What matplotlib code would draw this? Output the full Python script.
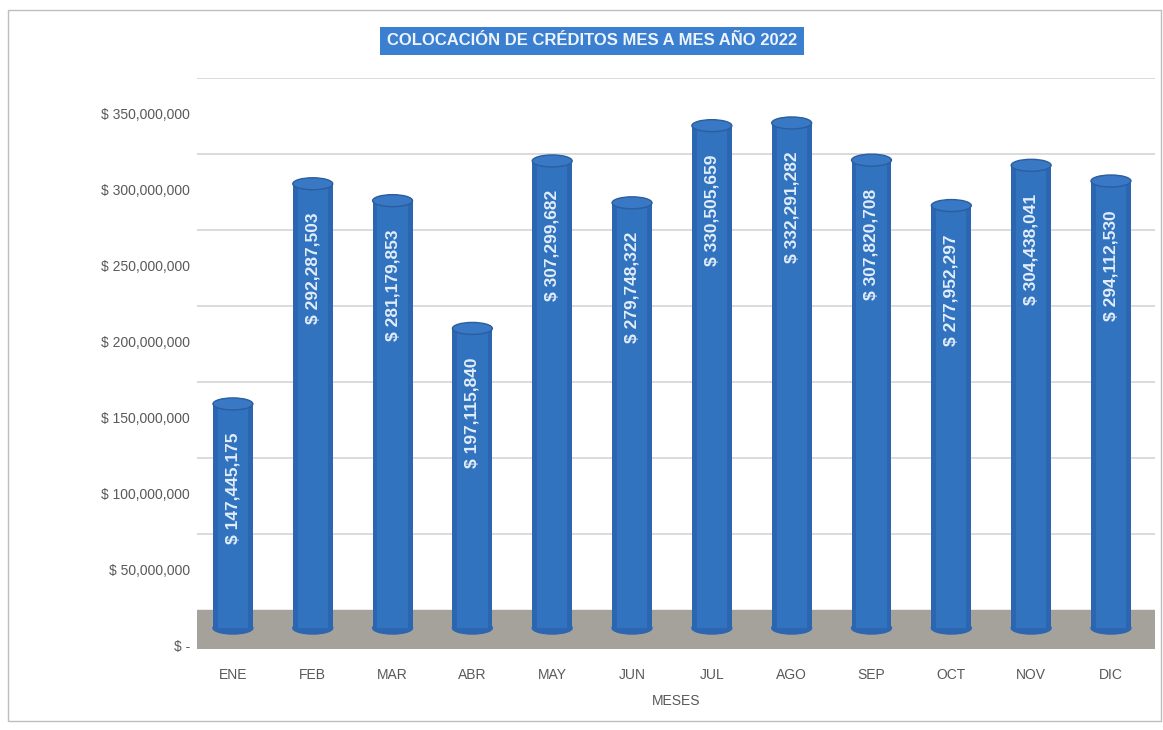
import matplotlib.pyplot as plt
from matplotlib.patches import Ellipse, Rectangle
from matplotlib.ticker import FuncFormatter

plt.rcParams['font.family'] = ['Liberation Sans', 'DejaVu Sans']

meses = ["ENE", "FEB", "MAR", "ABR", "MAY", "JUN", "JUL", "AGO", "SEP", "OCT", "NOV", "DIC"]
valores = [147445175, 292287503, 281179853, 197115840, 307299682, 279748322,
           330505659, 332291282, 307820708, 277952297, 304438041, 294112530]
ticks_y = [0, 50e6, 100e6, 150e6, 200e6, 250e6, 300e6, 350e6]

# desplazamientos de la "profundidad" 3D (en unidades de datos)
fondo = 23.7e6   # pared trasera
medio = 11.8e6   # base de los cilindros

fig = plt.figure(figsize=(11.63, 7.30), dpi=100)
ax = fig.add_axes([0.1694, 0.1110, 0.8236, 0.7822])
ax.set_xlim(-0.45, 11.55)
ax.set_ylim(-1.97e6, 373.7e6)

# piso gris y lineas de cuadricula en la pared trasera
ax.axhspan(-1.97e6, fondo, color="#a5a29b", zorder=0)
for t in ticks_y[1:]:
    ax.axhline(t + fondo, color="#d4d4d4", lw=1.2, zorder=0)

x = list(range(len(meses)))
ax.bar(x, valores, width=0.5, bottom=medio, color="#2d66b0", zorder=2)
ax.bar(x, valores, width=0.38, bottom=medio, color="#3273c0", zorder=3)
eh = 7.9e6
for i, v in enumerate(valores):
    ax.add_patch(Ellipse((i, medio), 0.5, eh, color="#2d66b0", zorder=1.5))
    ax.add_patch(Ellipse((i, v + medio), 0.5, eh, facecolor="#3878c5",
                         edgecolor="#2a5e9f", lw=1, zorder=4))
    ax.text(i, v + medio - 19e6, f"$ {v:,}", rotation=90, ha="center", va="top",
            color="#e2edf9", fontsize=12.5, fontweight="bold", zorder=5)

ax.set_xticks(x, meses)
ax.set_yticks(ticks_y)
ax.yaxis.set_major_formatter(FuncFormatter(
    lambda v, p: "$ -" if v == 0 else f"$ {int(v):,}"))
ax.tick_params(length=0, colors="#595959", labelsize=10)
ax.tick_params(axis="x", pad=14)
ax.tick_params(axis="y", pad=5)
for s in ax.spines.values():
    s.set_visible(False)
ax.set_xlabel("MESES", color="#595959", fontsize=10, labelpad=8)

fig.text(0.509, 0.944, "COLOCACIÓN DE CRÉDITOS MES A MES AÑO 2022", ha="center",
         va="center", color="#eef4fb", fontsize=12, fontweight="bold",
         bbox=dict(boxstyle="square,pad=0.4", fc="#3a7fd0", ec="none"))

fig.patches.append(Rectangle((0.007, 0.012), 0.991, 0.974, transform=fig.transFigure,
                             fill=False, ec="#bdbdbd", lw=1))

fig.savefig("out.png", dpi=100)
